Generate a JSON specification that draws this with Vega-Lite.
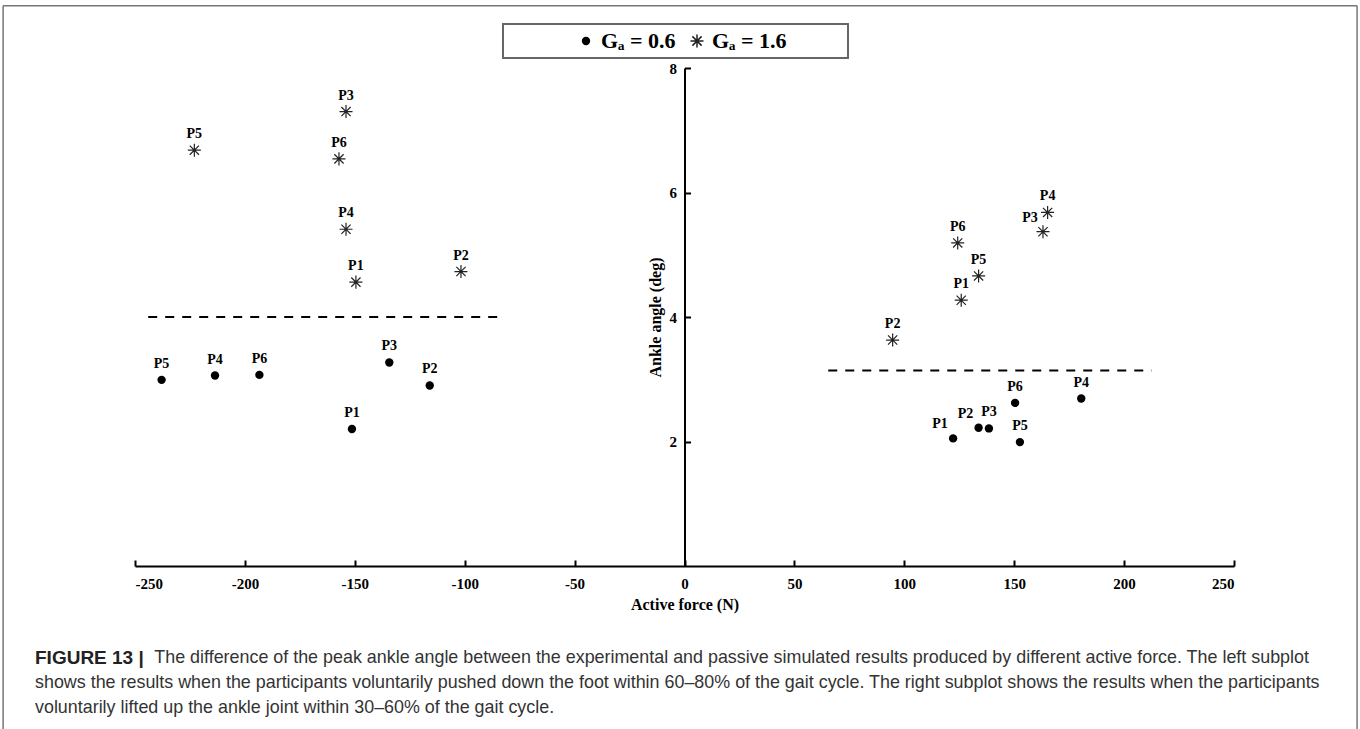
{
  "$schema": "https://vega.github.io/schema/vega-lite/v6.json",
  "width": 1099,
  "height": 498,
  "autosize": {"type": "none"},
  "padding": {"left": 135, "top": 68, "right": 126, "bottom": 163},
  "background": "white",
  "config": {
    "view": {"stroke": null},
    "legend": {"strokeWidth": 2},
    "axis": {
      "grid": false,
      "domainColor": "#000000",
      "domainWidth": 2,
      "tickColor": "#000000",
      "tickWidth": 2,
      "tickSize": -6,
      "labelFont": "Liberation Serif",
      "labelFontWeight": "bold",
      "labelFontSize": 15,
      "labelColor": "#000000",
      "titleFont": "Liberation Serif",
      "titleFontWeight": "bold",
      "titleFontSize": 16,
      "titleColor": "#000000"
    }
  },
  "title": {
    "text": "FIGURE 13 |",
    "subtitle": [
      "\u200b\u00a0\u00a0\u00a0\u00a0\u00a0\u00a0\u00a0\u00a0\u00a0\u00a0\u00a0\u00a0\u00a0\u00a0\u00a0\u00a0\u00a0\u00a0\u00a0\u00a0\u00a0\u00a0\u00a0\u00a0The difference of the peak ankle angle between the experimental and passive simulated results produced by different active force. The left subplot",
      "shows the results when the participants voluntarily pushed down the foot within 60\u201380% of the gait cycle. The right subplot shows the results when the participants",
      "voluntarily lifted up the ankle joint within 30\u201360% of the gait cycle."
    ],
    "orient": "bottom",
    "anchor": "start",
    "frame": "group",
    "dx": -100,
    "offset": -81,
    "font": "Liberation Sans",
    "fontSize": 19,
    "fontWeight": "bold",
    "color": "#222222",
    "lineHeight": 25,
    "subtitleFont": "Liberation Sans",
    "subtitleFontSize": 17.9,
    "subtitleFontWeight": "normal",
    "subtitleColor": "#333333",
    "subtitleLineHeight": 25,
    "subtitlePadding": -19
  },
  "datasets": {
    "pts": [
      {"force": -154.0, "angle": 7.30, "Ga": "1.6", "p": "P3"},
      {"force": -223.0, "angle": 6.68, "Ga": "1.6", "p": "P5"},
      {"force": -157.2, "angle": 6.54, "Ga": "1.6", "p": "P6"},
      {"force": -154.0, "angle": 5.41, "Ga": "1.6", "p": "P4"},
      {"force": -149.5, "angle": 4.56, "Ga": "1.6", "p": "P1"},
      {"force": -101.7, "angle": 4.73, "Ga": "1.6", "p": "P2"},
      {"force": -237.9, "angle": 2.99, "Ga": "0.6", "p": "P5"},
      {"force": -213.6, "angle": 3.06, "Ga": "0.6", "p": "P4"},
      {"force": -193.4, "angle": 3.07, "Ga": "0.6", "p": "P6"},
      {"force": -134.3, "angle": 3.27, "Ga": "0.6", "p": "P3"},
      {"force": -115.9, "angle": 2.90, "Ga": "0.6", "p": "P2"},
      {"force": -151.3, "angle": 2.20, "Ga": "0.6", "p": "P1"},
      {"force": 165.2, "angle": 5.68, "Ga": "1.6", "p": "P4"},
      {"force": 163.1, "angle": 5.37, "Ga": "1.6", "p": "P3"},
      {"force": 124.3, "angle": 5.19, "Ga": "1.6", "p": "P6"},
      {"force": 133.8, "angle": 4.66, "Ga": "1.6", "p": "P5"},
      {"force": 125.9, "angle": 4.27, "Ga": "1.6", "p": "P1"},
      {"force": 94.7, "angle": 3.63, "Ga": "1.6", "p": "P2"},
      {"force": 150.4, "angle": 2.62, "Ga": "0.6", "p": "P6"},
      {"force": 180.5, "angle": 2.69, "Ga": "0.6", "p": "P4"},
      {"force": 122.2, "angle": 2.05, "Ga": "0.6", "p": "P1"},
      {"force": 133.8, "angle": 2.22, "Ga": "0.6", "p": "P2"},
      {"force": 138.5, "angle": 2.21, "Ga": "0.6", "p": "P3"},
      {"force": 152.6, "angle": 1.99, "Ga": "0.6", "p": "P5"}
    ],
    "thresholds": [
      {"from": -244, "to": -85, "level": 4.0},
      {"from": 65.4, "to": 212.5, "level": 3.14}
    ]
  },
  "layer": [
    {
      "data": {"values": [{}]},
      "mark": {"type": "rule", "color": "#777777", "strokeWidth": 1.5},
      "encoding": {"x": {"datum": -310}, "x2": {"datum": 306}, "y": {"datum": 9.0}}
    },
    {
      "data": {"values": [{}]},
      "mark": {"type": "rule", "color": "#777777", "strokeWidth": 1.5},
      "encoding": {"x": {"datum": -310}, "y": {"datum": 9.0}, "y2": {"datum": -2.62}}
    },
    {
      "data": {"values": [{}]},
      "mark": {"type": "rule", "color": "#777777", "strokeWidth": 1.5},
      "encoding": {"x": {"datum": 306}, "y": {"datum": 9.0}, "y2": {"datum": -2.62}}
    },
    {
      "data": {"name": "thresholds"},
      "mark": {"type": "rule", "color": "#000000", "strokeWidth": 2, "strokeDash": [9, 8]},
      "encoding": {
        "x": {"field": "from", "type": "quantitative"},
        "x2": {"field": "to"},
        "y": {"field": "level", "type": "quantitative"}
      }
    },
    {
      "data": {"name": "pts"},
      "mark": {"type": "point", "strokeWidth": 1.2, "opacity": 1},
      "encoding": {
        "x": {
          "field": "force", "type": "quantitative",
          "scale": {"domain": [-250, 250], "nice": false, "zero": false},
          "axis": {
            "values": [-250, -200, -150, -100, -50, 0, 50, 100, 150, 200, 250],
            "labelExpr": "'' + datum.value",
            "labelPadding": 16,
            "title": "Active force (N)",
            "titlePadding": 5
          }
        },
        "y": {
          "field": "angle", "type": "quantitative",
          "scale": {"domain": [0, 8], "nice": false, "zero": false},
          "axis": {
            "values": [2, 4, 6, 8],
            "labelExpr": "'' + datum.value",
            "offset": -549.5,
            "labelPadding": 14,
            "title": "Ankle angle (deg)",
            "titlePadding": 6
          }
        },
        "shape": {
          "field": "Ga", "type": "nominal",
          "scale": {"domain": ["0.6", "1.6"], "range": ["circle", "M0,-1L0,1M-1,0L1,0M-0.7071,-0.7071L0.7071,0.7071M-0.7071,0.7071L0.7071,-0.7071"]},
          "legend": {
            "orient": "none",
            "legendX": 368,
            "legendY": -44,
            "direction": "horizontal",
            "title": "\u200b\u2003\u2003\u2003\u2003\u200b",
            "titleOrient": "left",
            "titleFont": "Liberation Serif",
            "titleFontSize": 16.5,
            "titlePadding": 0,
            "labelExpr": "datum.label == '1.6' ? 'G\u2090 = 1.6\u2003\u2003\u2002\u200b' : 'G\u2090 = ' + datum.label",
            "labelFont": "Liberation Serif",
            "labelFontSize": 22,
            "labelFontWeight": "bold",
            "labelColor": "#000000",
            "labelOffset": 4,
            "columnPadding": 10,
            "padding": 6,
            "strokeColor": "#666666",
            "fillColor": "white"
          }
        },
        "fill": {
          "field": "Ga", "type": "nominal",
          "scale": {"domain": ["0.6", "1.6"], "range": ["#000000", "transparent"]}
        },
        "stroke": {
          "field": "Ga", "type": "nominal",
          "scale": {"domain": ["0.6", "1.6"], "range": ["transparent", "#222222"]}
        },
        "size": {
          "field": "Ga", "type": "nominal",
          "scale": {"domain": ["0.6", "1.6"], "range": [70, 170]}
        }
      }
    },
    {
      "data": {"name": "pts"},
      "transform": [
        {"filter": "!(datum.force > 0 && ((datum.Ga == '0.6' && (datum.p == 'P1' || datum.p == 'P2')) || (datum.Ga == '1.6' && datum.p == 'P3')))"}
      ],
      "mark": {"type": "text", "font": "Liberation Serif", "fontWeight": "bold", "fontSize": 14, "color": "#000000", "dy": -16, "baseline": "middle"},
      "encoding": {
        "x": {"field": "force", "type": "quantitative"},
        "y": {"field": "angle", "type": "quantitative"},
        "text": {"field": "p"}
      }
    },
    {
      "data": {"name": "pts"},
      "transform": [
        {"filter": "datum.force > 0 && ((datum.Ga == '0.6' && (datum.p == 'P1' || datum.p == 'P2')) || (datum.Ga == '1.6' && datum.p == 'P3'))"}
      ],
      "mark": {"type": "text", "font": "Liberation Serif", "fontWeight": "bold", "fontSize": 14, "color": "#000000", "dx": -13, "dy": -14, "baseline": "middle"},
      "encoding": {
        "x": {"field": "force", "type": "quantitative"},
        "y": {"field": "angle", "type": "quantitative"},
        "text": {"field": "p"}
      }
    }
  ]
}
